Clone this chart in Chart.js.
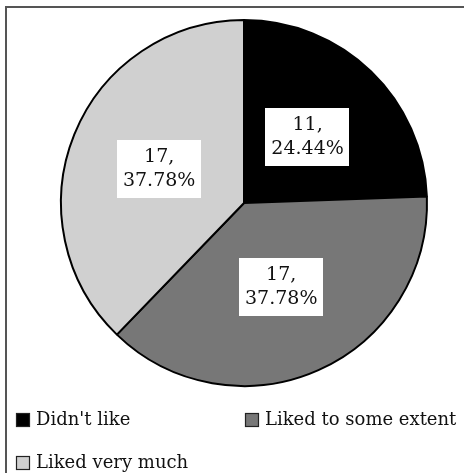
<!DOCTYPE html>
<html>
<head>
<meta charset="utf-8">
<script src="https://cdn.jsdelivr.net/npm/chart.js@4.4.0/dist/chart.umd.min.js"></script>
<style>
  html, body { margin: 0; padding: 0; background: #fff; }
  #wrap { position: relative; width: 464px; height: 473px; overflow: hidden; }
  #frame { position: absolute; left: 5px; top: 6px; width: 500px; height: 500px;
           border-left: 2px solid #555; border-top: 2px solid #555; }
  canvas { position: absolute; left: 0; top: 0; }
</style>
</head>
<body>
<div id="wrap">
  <div id="frame"></div>
  <canvas id="pieChart" width="464" height="473"></canvas>
</div>
<script>
// ==================== Data ====================
const categories = ["Didn't like", 'Liked to some extent', 'Liked very much'];
const counts = [11, 17, 17];
const percents = ['24.44%', '37.78%', '37.78%'];
const colors = ['#000000', '#777777', '#d0d0d0'];

const FONT = '"DejaVu Serif", "Liberation Serif", serif';

// ==================== Plugins ====================
// white boxed labels at the middle of each slice
const boxLabels = {
    id: 'boxLabels',
    afterDatasetsDraw(chart) {
        const ctx = chart.ctx;
        const meta = chart.getDatasetMeta(0);
        ctx.save();
        ctx.font = '19px ' + FONT;
        ctx.textAlign = 'center';
        ctx.textBaseline = 'middle';
        meta.data.forEach((arc, i) => {
            const p = arc.getCenterPoint();
            const lines = [counts[i] + ',', percents[i]];
            const w = Math.max(...lines.map(l => ctx.measureText(l).width)) + 12;
            const lh = 24;
            const h = lh * lines.length + 10;
            ctx.fillStyle = '#fff';
            ctx.fillRect(Math.round(p.x - w / 2), Math.round(p.y - h / 2), Math.round(w), h);
            ctx.fillStyle = '#111';
            lines.forEach((l, k) => {
                ctx.fillText(l, p.x, p.y - h / 2 + 5 + lh * k + lh / 2);
            });
        });
        ctx.restore();
    }
};

// legend drawn in two columns under the pie
const gridLegend = {
    id: 'gridLegend',
    afterDraw(chart) {
        const ctx = chart.ctx;
        const spots = [[16, 420], [245, 420], [16, 463]];
        ctx.save();
        ctx.font = '18px ' + FONT;
        ctx.textBaseline = 'middle';
        categories.forEach((c, i) => {
            const [x, y] = spots[i];
            ctx.fillStyle = colors[i];
            ctx.fillRect(x, y - 7, 14, 14);
            ctx.strokeStyle = '#222';
            ctx.lineWidth = 1.2;
            ctx.strokeRect(x + 0.5, y - 6.5, 13, 13);
            ctx.fillStyle = '#111';
            ctx.fillText(c, x + 20, y);
        });
        ctx.restore();
    }
};

// ==================== Chart ====================
new Chart(document.getElementById('pieChart').getContext('2d'), {
    type: 'pie',
    data: {
        labels: categories,
        datasets: [{
            data: counts,
            backgroundColor: colors,
            borderColor: '#000',
            borderWidth: 2
        }]
    },
    options: {
        responsive: false,
        animation: false,
        layout: { padding: { left: 60, right: 36, top: 19, bottom: 86 } },
        plugins: { legend: { display: false }, tooltip: { enabled: false } }
    },
    plugins: [boxLabels, gridLegend]
});
</script>
</body>
</html>
